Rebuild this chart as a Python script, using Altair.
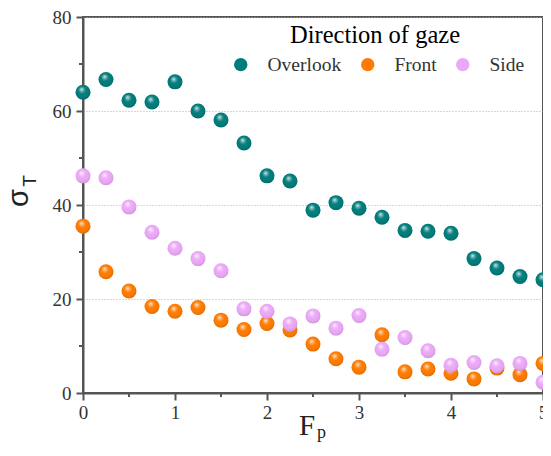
import altair as alt
import pandas as pd

fp = [0, 0.25, 0.5, 0.75, 1.0, 1.25, 1.5, 1.75, 2.0, 2.25, 2.5, 2.75, 3.0,
      3.25, 3.5, 3.75, 4.0, 4.25, 4.5, 4.75, 5.0]
overlook = [64.0, 66.7, 62.3, 61.9, 66.2, 60.0, 58.1, 53.2, 46.2, 45.1, 38.9,
            40.5, 39.3, 37.4, 34.6, 34.4, 34.0, 28.6, 26.6, 24.8, 24.1]
front = [35.5, 25.8, 21.7, 18.4, 17.4, 18.2, 15.5, 13.5, 14.8, 13.4, 10.4,
         7.3, 5.5, 12.4, 4.5, 5.1, 4.2, 3.0, 5.3, 3.9, 6.3]
side = [46.2, 45.8, 39.6, 34.2, 30.8, 28.6, 26.0, 17.9, 17.4, 14.7, 16.4,
        13.8, 16.5, 9.3, 11.8, 9.0, 5.9, 6.5, 5.8, 6.3, 2.3]
series_names = ["Overlook", "Front", "Side"]
series_colors = ["#007C7A", "#FF7A00", "#ECA8F8"]
x_ticks = [0, 1, 2, 3, 4, 5]
x_minor = [0.5, 1.5, 2.5, 3.5, 4.5]
y_ticks = [0, 20, 40, 60, 80]
y_minor = [10, 30, 50, 70]
legend_title = "Direction of gaze"
y_title, y_sub = "σ", "T"
x_title, x_sub = "F", "p"

W, H = 460, 376
SERIF = "Liberation Serif"
AX = "#555555"

xs = alt.Scale(domain=[0, 5], nice=False)
ys = alt.Scale(domain=[0, 80], nice=False)
xaxis = alt.Axis(values=x_ticks, format="d", title=None, grid=False,
                 labelFont=SERIF, labelFontSize=19, labelColor="#333333",
                 tickSize=7, tickWidth=2, tickColor=AX, domainColor=AX,
                 domainWidth=2, labelPadding=3, labelFlush=False)
yaxis = alt.Axis(values=y_ticks, format="d", title=None, grid=True,
                 gridDash=[1, 2], gridColor="#b0b0b0", gridWidth=1,
                 labelFont=SERIF, labelFontSize=19, labelColor="#333333",
                 tickSize=7, tickWidth=2, tickColor=AX, domainColor=AX,
                 domainWidth=2, labelPadding=5, labelFlush=False)
x_enc = alt.X("fp:Q", scale=xs, axis=xaxis)
y_enc = alt.Y("v:Q", scale=ys, axis=yaxis)

legend = alt.Legend(orient="none", legendX=148, legendY=37.5,
                    direction="horizontal", columns=3, title=None,
                    labelFont=SERIF, labelFontSize=19.5,
                    labelColor="#333333", symbolType="circle", symbolSize=180,
                    symbolOpacity=1, symbolStrokeWidth=0, labelOffset=17,
                    columnPadding=16)

grad = {
    "gradient": "radial",
    "x1": 0.4, "y1": 0.3, "r1": 0,
    "x2": 0.48, "y2": 0.45, "r2": 0.62,
    "stops": [
        {"offset": 0.0, "color": "rgba(255,255,255,0.95)"},
        {"offset": 0.16, "color": "rgba(255,255,255,0.45)"},
        {"offset": 0.42, "color": "rgba(255,255,255,0)"},
        {"offset": 0.8, "color": "rgba(0,0,0,0.05)"},
        {"offset": 1.0, "color": "rgba(0,0,0,0.22)"},
    ],
}

SIZE = 225
layers = []
for name, vals in zip(series_names, [overlook, front, side]):
    d = pd.DataFrame({"fp": fp, "v": vals, "series": name})
    base = alt.Chart(d).mark_circle(size=SIZE, opacity=1).encode(
        x=x_enc, y=y_enc,
        color=alt.Color("series:N", sort=series_names,
                        scale=alt.Scale(domain=series_names, range=series_colors),
                        legend=legend))
    hl = alt.Chart(d).mark_circle(size=SIZE, opacity=1, fill=grad).encode(
        x=x_enc, y=y_enc)
    layers += [base, hl]

ymin = alt.Chart(pd.DataFrame({"v": y_minor})).mark_rule(
    color=AX, strokeWidth=2).encode(y=y_enc, x=alt.value(-4), x2=alt.value(0))
xmin = alt.Chart(pd.DataFrame({"fp": x_minor})).mark_rule(
    color=AX, strokeWidth=2).encode(x=x_enc, y=alt.value(H), y2=alt.value(H + 4))

one = pd.DataFrame({"k": [0]})
t_leg = alt.Chart(one).mark_text(text=legend_title, font=SERIF, fontSize=24.5,
                                 align="center", baseline="alphabetic",
                                 color="black").encode(
    x=alt.value(292), y=alt.value(26))
t_sigma = alt.Chart(one).mark_text(text=y_title, font="Liberation Sans",
                                   fontSize=29, angle=270, align="center",
                                   baseline="alphabetic", color="#222").encode(
    x=alt.value(-55), y=alt.value(181))
t_T = alt.Chart(one).mark_text(text=y_sub, font="Liberation Sans",
                               fontSize=19, angle=270, align="center",
                               baseline="alphabetic", color="#222").encode(
    x=alt.value(-47.5), y=alt.value(164))
t_F = alt.Chart(one).mark_text(text=x_title, font=SERIF, fontSize=29,
                               align="left", baseline="alphabetic",
                               color="#222").encode(
    x=alt.value(216), y=alt.value(418))
t_p = alt.Chart(one).mark_text(text=x_sub, font=SERIF, fontSize=18,
                               align="left", baseline="alphabetic",
                               color="#222").encode(
    x=alt.value(234), y=alt.value(421))

chart = alt.layer(*layers, ymin, xmin, t_leg, t_sigma, t_T, t_F, t_p).properties(
    width=W, height=H,
    padding={"left": 75, "top": 9, "right": 0, "bottom": 49},
    autosize=alt.AutoSizeParams(type="none"),
).configure_view(stroke=AX, strokeWidth=2)

chart.save("out.html", embed_options={"renderer": "svg", "actions": False})
